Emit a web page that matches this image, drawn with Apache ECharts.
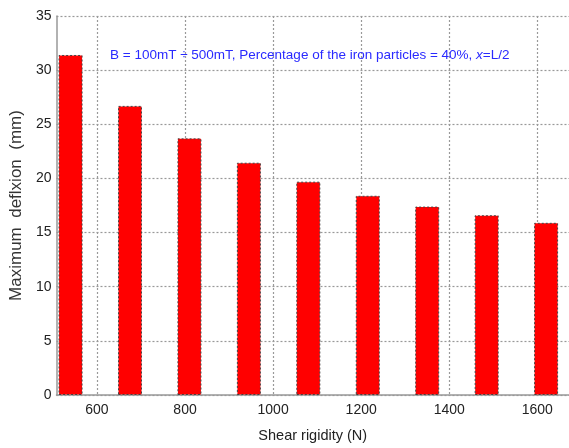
<!DOCTYPE html>
<html>
<head>
<meta charset="utf-8">
<script src="https://cdn.jsdelivr.net/npm/echarts@6/dist/echarts.min.js"></script>
<style>html,body{margin:0;padding:0;background:#fff}#c{width:569px;height:448px}</style>
</head>
<body>
<div id="c"></div>
<script>
const shearRigidity = [540, 675, 810, 945, 1080, 1215, 1350, 1485, 1620];
const maxDeflexion = [31.4, 26.7, 23.7, 21.45, 19.7, 18.4, 17.4, 16.6, 15.9];
const xTicks = [600, 800, 1000, 1200, 1400, 1600];
const titleText = 'B = 100mT \u00F7 500mT, Percentage of the iron particles = 40%, {i|x}=L/2';
const xName = 'Shear rigidity (N)';
const yName = 'Maximum  deflxion  (mm)';

const FONT = '"Liberation Sans Narrow", "Liberation Sans", Arial, sans-serif';
const chart = echarts.init(document.getElementById('c'));
chart.setOption({
  animation: false,
  backgroundColor: '#fff',
  title: {
    text: titleText,
    left: 105, top: 43,
    textStyle: {
      fontFamily: FONT, fontSize: 13.5, fontWeight: 'normal', color: '#2a2aff',
      rich: { i: { fontFamily: FONT, fontSize: 13.5, fontStyle: 'italic', color: '#2a2aff' } }
    }
  },
  grid: { left: 52, right: 0, top: 16, bottom: 52 },
  xAxis: {
    type: 'value', min: 508, max: 1672,
    name: xName, nameLocation: 'middle', nameGap: 33,
    nameTextStyle: { fontFamily: FONT, fontSize: 14.5, color: '#222' },
    axisLine: { show: true, onZero: false, lineStyle: { color: '#999', width: 1.5 } },
    axisTick: { show: false, customValues: xTicks },
    axisLabel: { customValues: xTicks, formatter: v => String(v), fontFamily: FONT, fontSize: 14, color: '#222', margin: 8 },
    splitLine: { show: true, lineStyle: { color: '#999', type: [2, 2], width: 1.2 } }
  },
  yAxis: {
    type: 'value', min: 0, max: 35, interval: 5,
    name: yName, nameLocation: 'middle', nameGap: 26,
    nameTextStyle: { fontFamily: '"Liberation Sans", Arial, sans-serif', fontSize: 17, color: '#333' },
    axisLine: { show: true, lineStyle: { color: '#999', width: 1.5 } },
    axisTick: { show: false },
    axisLabel: { fontFamily: FONT, fontSize: 14, color: '#222', margin: 5 },
    splitLine: { show: true, lineStyle: { color: '#999', type: [2, 2], width: 1.2 } }
  },
  series: [{
    type: 'bar',
    data: shearRigidity.map((x, i) => [x, maxDeflexion[i]]),
    barWidth: 24,
    itemStyle: { color: '#ff0000', borderColor: '#444', borderWidth: 1, borderType: [2, 2] }
  }]
});
</script>
</body>
</html>
